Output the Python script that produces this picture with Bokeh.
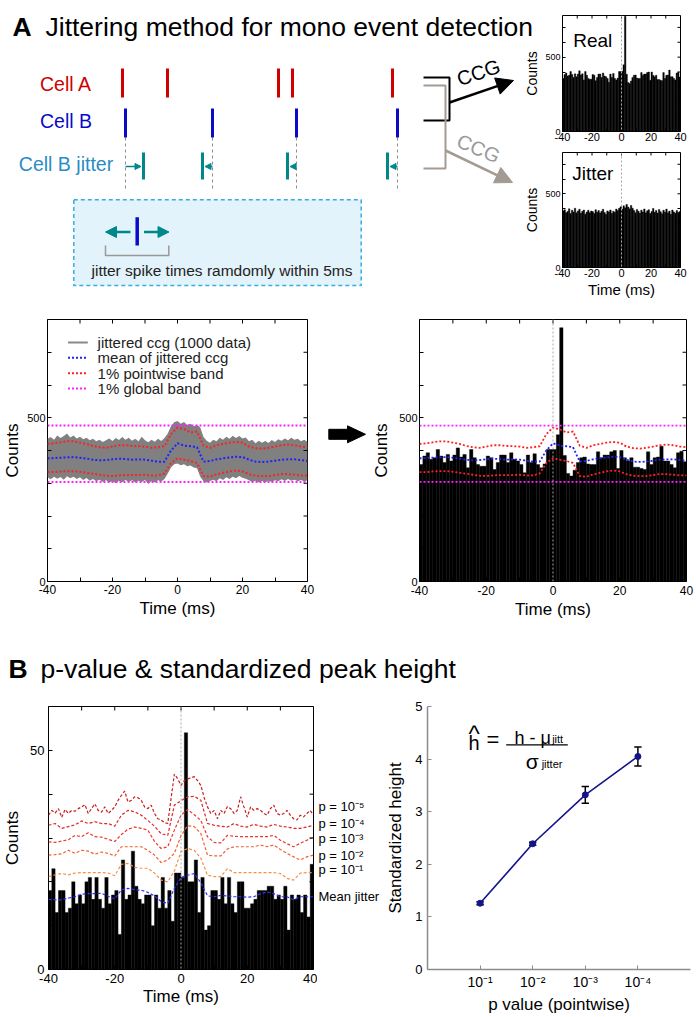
from math import pi
from bokeh.plotting import figure
from bokeh.models import Range1d, FixedTicker, Span, Arrow, NormalHead
from bokeh.layouts import row, column
from bokeh.core.properties import value
from bokeh.embed import file_html
from bokeh.resources import INLINE

FONT = "Liberation Sans"

# ---------------- data ----------------
ccg_bins = list(range(-40, 40))  # 1-ms bins, left edges
real_counts = [357, 383, 393, 373, 378, 403, 383, 363, 388, 368,
               386, 408, 380, 388, 347, 403, 378, 357, 352, 352,
               383, 378, 342, 363, 386, 386, 363, 393, 373, 368,
               357, 332, 386, 363, 390, 357, 347, 359, 403, 403,
               403, 448, 775, 385, 330, 322, 340, 363, 378, 380,
               359, 357, 357, 396, 378, 386, 386, 396, 400, 345,
               400, 378, 368, 378, 349, 349, 345, 342, 396, 357,
               378, 380, 413, 368, 368, 357, 347, 393, 398, 366]
jitter_counts = [385, 392, 372, 380, 398, 366, 389, 377, 402, 371,
                 384, 395, 368, 381, 390, 362, 376, 388, 371, 383,
                 379, 366, 392, 374, 386, 369, 381, 395, 373, 362,
                 384, 377, 390, 368, 382, 375, 396, 386, 402, 412,
                 395, 418, 405, 428, 410, 398, 421, 402, 387, 372,
                 394, 381, 368, 389, 376, 397, 371, 385, 392, 366,
                 380, 401, 374, 387, 369, 393, 378, 364, 388, 375,
                 396, 371, 383, 361, 390, 377, 368, 386, 373, 380]

band_t = list(range(-40, 41, 2))
pointwise_hi = [420, 422, 425, 428, 428, 424, 420, 414, 410, 408,
                412, 416, 416, 414, 413, 412, 408, 410, 413, 450,
                470, 465, 455, 458, 415, 408, 416, 420, 424, 426,
                424, 412, 407, 406, 408, 412, 416, 418, 416, 412, 410]
jitter_mean = [376, 377, 378, 379, 380, 378, 375, 372, 370, 371,
               373, 375, 374, 372, 373, 372, 369, 366, 366, 400,
               422, 415, 413, 410, 366, 368, 373, 376, 379, 381,
               380, 372, 366, 365, 366, 369, 372, 373, 373, 371, 368]
pointwise_lo = [334, 334, 336, 337, 337, 335, 332, 329, 326, 323,
                322, 324, 325, 325, 325, 326, 324, 324, 330, 362,
                376, 372, 368, 362, 322, 320, 327, 332, 336, 339,
                336, 328, 323, 322, 322, 325, 328, 328, 326, 324, 324]
env_t = list(range(-40, 41))
jittered_hi = [436, 441, 433, 446, 438, 444, 452, 440, 446, 437,
               442, 434, 439, 431, 436, 428, 433, 426, 431, 437,
               429, 438, 432, 441, 433, 439, 430, 436, 428, 442,
               431, 425, 433, 427, 436, 429, 438, 452, 474, 486,
               490, 482, 487, 478, 482, 474, 479, 470, 441, 430,
               424, 433, 428, 439, 433, 442, 436, 445, 438, 444,
               437, 440, 428, 433, 422, 430, 424, 429, 423, 432,
               426, 434, 430, 437, 431, 439, 433, 436, 428, 433, 426]
jittered_lo = [318, 312, 320, 314, 319, 311, 321, 315, 320, 313,
               318, 310, 316, 308, 313, 306, 311, 304, 309, 302,
               307, 300, 308, 303, 310, 304, 309, 302, 308, 304,
               310, 298, 307, 302, 309, 305, 313, 330, 348, 358,
               360, 355, 358, 352, 354, 348, 346, 320, 306, 302,
               307, 311, 306, 315, 310, 318, 313, 320, 315, 322,
               317, 314, 309, 304, 308, 302, 307, 303, 308, 304,
               309, 306, 312, 307, 313, 308, 311, 306, 310, 305, 309]
global_hi = 476
global_lo = 304
legend_labels = ["jittered ccg (1000 data)", "mean of jittered ccg",
                 "1% pointwise band", "1% global band"]

b_counts = [18, 23, 13, 18, 18, 13, 14, 20, 15, 17,
            15, 20, 21, 16, 21, 16, 14, 21, 15, 17,
            18, 8, 25, 16, 17, 27, 19, 16, 15, 17,
            17, 10, 17, 14, 21, 14, 18, 11, 22, 22,
            21, 54, 20, 20, 25, 13, 21, 9, 10, 18,
            18, 16, 21, 15, 21, 15, 13, 20, 20, 14,
            14, 15, 16, 18, 18, 18, 19, 19, 16, 17,
            16, 19, 9, 17, 16, 17, 13, 17, 12, 24]
p5_t = list(range(-40, 41))
p5_line = [35.2, 36.3, 35.7, 36.7, 34.7, 36.5, 35.6, 36.3, 36.1, 36.7,
           37.1, 37.6, 35.6, 36.7, 37.8, 36.3, 35.9, 37.1, 35.6, 36.3,
           37.1, 38.6, 39.7, 40.7, 38.2, 38.6, 39.4, 39.2, 38.6, 37.1,
           36.7, 37.5, 35.6, 34.4, 34.1, 33.5, 33.3, 39.0, 44.6, 43.5,
           42.0, 43.1, 43.5, 43.7, 44.0, 43.1, 42.0, 39.2, 37.1, 35.6,
           36.3, 34.4, 36.3, 35.6, 37.2, 36.7, 35.6, 36.3, 39.4, 37.1,
           34.8, 37.1, 36.3, 36.7, 36.3, 35.6, 35.2, 36.7, 37.5, 35.6,
           35.2, 35.6, 36.3, 35.2, 34.4, 34.1, 35.2, 34.8, 35.6, 36.3, 35.2]
pline_t = list(range(-40, 41, 2))
p4_line = [32.9, 33.3, 32.2, 32.6, 33.0, 33.9, 33.3, 33.7, 33.3, 33.3,
           32.7, 35.2, 36.3, 36.0, 35.2, 34.0, 32.7, 31.0, 30.6, 37.5,
           38.5, 39.4, 39.5, 38.6, 33.3, 32.9, 32.7, 32.5, 33.3, 32.7,
           32.5, 33.1, 32.7, 32.5, 33.1, 32.7, 32.5, 32.2, 32.2, 32.5, 32.9]
p3_line = [29.1, 29.0, 29.3, 29.6, 30.6, 30.3, 31.2, 30.3, 30.2, 29.7,
           29.2, 30.8, 32.0, 32.5, 32.2, 31.8, 29.2, 27.6, 28.0, 31.8,
           35.2, 36.5, 35.3, 34.0, 30.3, 29.0, 28.9, 30.6, 30.4, 30.3,
           30.3, 30.3, 30.3, 30.3, 30.6, 29.5, 28.7, 28.0, 28.8, 29.5, 30.2]
p2_line = [26.1, 26.2, 26.4, 27.2, 26.5, 27.2, 27.0, 26.3, 26.8, 26.5,
           25.9, 28.0, 28.0, 28.0, 28.0, 27.2, 26.1, 24.4, 25.0, 26.5,
           30.5, 32.8, 32.6, 31.0, 26.1, 25.9, 25.9, 27.5, 28.0, 28.0,
           28.0, 28.0, 28.4, 28.0, 28.4, 27.4, 26.5, 25.7, 25.0, 25.7, 26.1]
p1_line = [21.2, 21.6, 21.9, 21.6, 22.0, 22.1, 22.1, 22.1, 22.1, 22.0,
           21.4, 24.0, 24.2, 23.3, 23.1, 23.1, 22.0, 20.4, 20.0, 22.5,
           26.9, 27.6, 27.2, 25.4, 21.5, 21.2, 21.2, 23.0, 22.1, 22.1,
           22.1, 22.1, 22.1, 22.1, 22.1, 21.9, 20.8, 20.4, 22.0, 22.1, 22.1]
b_mean = [16.0, 15.9, 15.9, 16.3, 16.6, 17.2, 17.3, 17.3, 17.4, 16.7,
          16.1, 18.2, 18.5, 18.2, 18.1, 17.6, 16.8, 15.5, 15.1, 18.5,
          21.0, 21.5, 21.9, 19.8, 16.8, 16.6, 16.9, 16.8, 16.6, 16.6,
          16.5, 16.6, 17.3, 17.7, 17.3, 16.6, 16.6, 15.9, 16.6, 16.6, 16.6]
p_label_text = ["p = 10⁻⁵", "p = 10⁻⁴", "p = 10⁻³", "p = 10⁻²", "p = 10⁻¹", "Mean jitter"]
p_label_y = [37.1, 33.4, 29.9, 26.1, 22.7, 16.6]

p_pos = [1, 2, 3, 4]
p_tick_labels = ["10⁻¹", "10⁻²", "10⁻³", "10⁻⁴"]
std_height = [1.26, 2.39, 3.32, 4.05]
std_err = [0.03, 0.03, 0.16, 0.18]

# schematic spike trains (arbitrary time units of the diagram)
cellA_times = [122, 167, 278, 292, 392]
cellB_times = [125, 212, 296, 397]
cellB_jitter = [143, 202, 287, 387]
cell_labels = ["Cell A", "Cell B", "Cell B jitter"]

RED = "#d00000"
BLUE = "#0a0ac8"
TEAL = "#00878a"
LBLUE = "#2a8cc4"
GRAYB = "#a39a92"


# ---------------- helpers ----------------
def canvas(w, h, xr=None, yr=None, bt=0, bb=0):
    p = figure(width=w, height=h,
               x_range=Range1d(0, w) if xr is None else Range1d(*xr),
               y_range=Range1d(h, 0) if yr is None else Range1d(*yr),
               output_backend="svg", toolbar_location=None, min_border=0,
               min_border_top=bt, min_border_bottom=bb,
               x_axis_location=None, y_axis_location=None)
    p.grid.visible = False
    p.outline_line_color = None
    return p


def txt(p, x, y, s, size, color="black", align="left", baseline="alphabetic",
        bold=False, angle=0.0):
    p.text(x=[x], y=[y], text=[s], text_font=value(FONT),
           text_font_size=value(f"{size}px"), text_color=color,
           text_align=value(align), text_baseline=value(baseline),
           text_font_style=value("bold" if bold else "normal"), angle=angle)


def base_fig(w, h, xr, yr, bl, br, bt, bb):
    p = figure(width=w, height=h, x_range=Range1d(*xr), y_range=Range1d(*yr),
               output_backend="svg", toolbar_location=None,
               min_border_left=bl, min_border_right=br,
               min_border_top=bt, min_border_bottom=bb)
    p.grid.visible = False
    return p


def style_axis(ax, ticks, labels, size, standoff, tick_in=4, color="black", line=None):
    ax.ticker = FixedTicker(ticks=ticks)
    ax.major_label_overrides = dict(zip(ticks, labels))
    ax.major_tick_in = tick_in
    ax.major_tick_out = 0
    ax.minor_tick_in = 0
    ax.minor_tick_out = 0
    ax.major_tick_line_color = color
    ax.axis_line_color = line
    ax.major_label_text_font = FONT
    ax.major_label_text_font_size = f"{size}px"
    ax.major_label_text_color = "black"
    ax.major_label_standoff = standoff


def axis_title(ax, text, size, standoff):
    ax.axis_label = text
    ax.axis_label_text_font = FONT
    ax.axis_label_text_font_size = f"{size}px"
    ax.axis_label_text_font_style = "normal"
    ax.axis_label_text_color = "black"
    ax.axis_label_standoff = standoff


def mirror_ticks(p, xticks, yticks, xmax, ymax, length):
    # inward tick marks on the top and right edges of the box
    p.ray(x=xticks, y=[ymax] * len(xticks), length=length, length_units="screen",
          angle=-pi / 2, line_color="black", line_width=1)
    p.ray(x=[xmax] * len(yticks), y=yticks, length=length, length_units="screen",
          angle=pi, line_color="black", line_width=1)


def hist(p, counts):
    p.vbar(x=[b + 0.5 for b in ccg_bins], top=counts, width=1, bottom=0,
           fill_color="black", line_color="black", line_width=0.4)


def zero_line(p):
    p.add_layout(Span(location=0, dimension="height", line_color="#aaaaaa",
                      line_dash="2 2", line_width=1))


XT = list(range(-40, 41, 10))
XL = ["-40", "", "-20", "", "0", "", "20", "", "40"]

# ---------------- top-left schematic ----------------
S = canvas(540, 300)
txt(S, 12, 26, "A", 26.5, bold=True)
txt(S, 45, 26, "Jittering method for mono event detection", 26.5)
for lab, y, c in zip(cell_labels, [83, 120, 163], [RED, BLUE, LBLUE]):
    txt(S, 65.5, y, lab, 19.5, color=c, align="center", baseline="middle")
S.segment(x0=cellB_times, y0=137, x1=cellB_times, y1=188, line_color="#8c8c8c",
          line_dash="3 3", line_width=1)
S.segment(x0=cellA_times, y0=68, x1=cellA_times, y1=97, line_color=RED, line_width=3)
S.segment(x0=cellB_times, y0=108, x1=cellB_times, y1=137, line_color=BLUE, line_width=3)
S.segment(x0=cellB_jitter, y0=152, x1=cellB_jitter, y1=179, line_color=TEAL, line_width=3)
for b, j in zip(cellB_times, cellB_jitter):
    end = j - 2.5 if j > b else j + 2.5
    S.add_layout(Arrow(end=NormalHead(size=6, fill_color=TEAL, line_color=TEAL, line_width=1),
                       x_start=b, y_start=166, x_end=end, y_end=166,
                       line_color=TEAL, line_width=1.5))
# brackets and CCG arrows
S.line(x=[423, 449, 449, 423], y=[77, 77, 120, 120], line_color="black", line_width=2)
S.line(x=[423, 445, 445, 423], y=[85, 85, 168, 168], line_color=GRAYB, line_width=2)
S.add_layout(Arrow(end=NormalHead(size=17, fill_color="black", line_color="black", line_width=1),
                   x_start=449, y_start=102, x_end=513, y_end=80,
                   line_color="black", line_width=2.5))
S.add_layout(Arrow(end=NormalHead(size=17, fill_color=GRAYB, line_color=GRAYB, line_width=1),
                   x_start=445, y_start=150, x_end=512, y_end=182,
                   line_color=GRAYB, line_width=2.5))
txt(S, 478, 72, "CCG", 20, align="center", baseline="middle", angle=0.33)
txt(S, 478, 148, "CCG", 20, color="#9a9a9a", align="center", baseline="middle", angle=-0.40)
# explanation box
S.quad(left=73.3, right=360.7, top=199.3, bottom=285, fill_color="#e2f3fb",
       line_color="#36aee0", line_dash="4 3", line_width=1.5)
S.segment(x0=[136.7], y0=[216.7], x1=[136.7], y1=[245], line_color=BLUE, line_width=3.5)
S.add_layout(Arrow(end=NormalHead(size=11, fill_color=TEAL, line_color=TEAL, line_width=1),
                   x_start=130, y_start=231.5, x_end=105, y_end=231.5,
                   line_color=TEAL, line_width=2.5))
S.add_layout(Arrow(end=NormalHead(size=11, fill_color=TEAL, line_color=TEAL, line_width=1),
                   x_start=143.5, y_start=231.5, x_end=168.5, y_end=231.5,
                   line_color=TEAL, line_width=2.5))
S.line(x=[105, 105, 168.3, 168.3], y=[245, 255, 255, 245], line_color="#999999", line_width=1.5)
txt(S, 91, 270, "jitter spike times ramdomly within 5ms", 15.5, color="#222222", baseline="middle")


# ---------------- top-right small CCGs ----------------
def small_ccg(counts, h, bt, bb, xlabel):
    p = base_fig(176, h, (-40, 40), (0, 780), 42, 16, bt, bb)
    p.border_fill_color = None
    p.outline_line_color = "black"
    hist(p, counts)
    zero_line(p)
    style_axis(p.xaxis[0], XT, XL, 11, 1, tick_in=3)
    yt = list(range(0, 701, 100))
    style_axis(p.yaxis[0], yt, ["0", "", "", "", "", "500", "", ""], 9, 2, tick_in=3)
    axis_title(p.yaxis[0], "Counts", 14, 2)
    if xlabel:
        axis_title(p.xaxis[0], "Time (ms)", 15, 1)
    mirror_ticks(p, XT, yt, 40, 780, 3)
    return p


real_fig = small_ccg(real_counts, 148, 15, 17, False)
txt(real_fig, -32.7, 612, "Real", 19, baseline="middle")
jit_fig = small_ccg(jitter_counts, 152, 4, 33, True)
txt(jit_fig, -33.4, 638, "Jitter", 19, baseline="middle")

top = row(S, column(real_fig, jit_fig, margin=(0, 0, 0, -20)))

# ---------------- row 2 ----------------
YT8 = list(range(0, 801, 100))
YL8 = ["0", "", "", "", "", "500", "", "", ""]


def band_lines(p, lw):
    p.line(band_t, pointwise_hi, line_color="#ff2020", line_dash="2 2", line_width=lw)
    p.line(band_t, pointwise_lo, line_color="#ff2020", line_dash="2 2", line_width=lw)
    p.line(band_t, jitter_mean, line_color="#2020ff", line_dash="2 2", line_width=lw)
    p.add_layout(Span(location=global_hi, dimension="width", line_color="#ff20ff",
                      line_dash="2 2", line_width=lw))
    p.add_layout(Span(location=global_lo, dimension="width", line_color="#ff20ff",
                      line_dash="2 2", line_width=lw))


L2 = base_fig(325, 340, (-40, 40), (0, 800), 42, 18, 17, 59)
L2.outline_line_color = "black"
L2.varea(x=env_t, y1=jittered_lo, y2=jittered_hi, fill_color="#808080")
band_lines(L2, 2)
style_axis(L2.xaxis[0], XT, XL, 12, 3)
style_axis(L2.yaxis[0], YT8, YL8, 11, 2)
axis_title(L2.xaxis[0], "Time (ms)", 17, 2)
axis_title(L2.yaxis[0], "Counts", 17, 2)
mirror_ticks(L2, XT, YT8, 40, 800, 4)
leg_y = [730, 683, 636, 589]
leg_col = ["#8a8a8a", "#2020ff", "#ff2020", "#ff20ff"]
leg_dash = ["solid", "2 2", "2 2", "2 2"]
for lab, y, c, d in zip(legend_labels, leg_y, leg_col, leg_dash):
    L2.line(x=[-33.7, -27.6], y=[y, y], line_color=c, line_width=2, line_dash=d)
    txt(L2, -24.6, y, lab, 15, color="#222222", baseline="middle")

AR = canvas(43, 340)
AR.patch(x=[3.3, 22, 22, 40, 22, 22, 3.3], y=[142.5, 142.5, 138, 149, 160, 155.5, 155.5],
         fill_color="black", line_color="black")

R2 = base_fig(328, 340, (-40, 40), (0, 800), 51, 10, 19, 57)
R2.outline_line_color = "black"
hist(R2, real_counts)
band_lines(R2, 1.8)
zero_line(R2)
style_axis(R2.xaxis[0], XT, XL, 12, 4)
style_axis(R2.yaxis[0], YT8, YL8, 11, 2)
axis_title(R2.xaxis[0], "Time (ms)", 17, 2)
axis_title(R2.yaxis[0], "Counts", 17, 5)
mirror_ticks(R2, XT, YT8, 40, 800, 4)

row2 = row(L2, AR, R2)

# ---------------- title B ----------------
TB = canvas(696, 46)
txt(TB, 8, 28, "B", 26.5, bold=True)
txt(TB, 40, 28, "p-value & standardized peak height", 26.5)

# ---------------- row 3 left ----------------
B3L = base_fig(317, 331, (-40, 40), (0, 60), 44, 4, 20, 47)
B3L.outline_line_color = "black"
hist(B3L, b_counts)
P_COL = ["#c81e1e", "#dc2626", "#e93a2a", "#f0622f", "#f5914a"]
B3L.line(p5_t, p5_line, line_color=P_COL[0], line_dash="3 2", line_width=1.2)
for ys, c in zip([p4_line, p3_line, p2_line, p1_line], P_COL[1:]):
    B3L.line(pline_t, ys, line_color=c, line_dash="3 2", line_width=1.2)
B3L.line(pline_t, b_mean, line_color="#3030ff", line_dash="3 2", line_width=1.2)
zero_line(B3L)
YT6 = list(range(0, 61, 10))
style_axis(B3L.xaxis[0], XT, XL, 13, 4)
style_axis(B3L.yaxis[0], YT6, ["0", "", "", "", "", "50", ""], 13, 4)
axis_title(B3L.xaxis[0], "Time (ms)", 17, 1)
axis_title(B3L.yaxis[0], "Counts", 17, 5)
mirror_ticks(B3L, XT, YT6, 40, 60, 4)

# band labels, in a strip sharing the count scale of the left panel
PL = canvas(63, 331, xr=(0, 63), yr=(0, 60), bt=20, bb=47)
for s, y in zip(p_label_text, p_label_y):
    txt(PL, 1, y, s, 13, baseline="middle")

# ---------------- row 3 right ----------------
B3R = base_fig(316, 331, (0, 5), (0, 5), 47, 6, 17, 48)
B3R.outline_line_color = None
AXC = "#8c8c8c"
style_axis(B3R.xaxis[0], p_pos, p_tick_labels, 14, 4, tick_in=4, color=AXC, line=AXC)
style_axis(B3R.yaxis[0], [0, 1, 2, 3, 4, 5], ["0", "1", "2", "3", "4", "5"], 13, 5,
           tick_in=4, color=AXC, line=AXC)
B3R.xaxis[0].axis_line_width = 1.5
B3R.yaxis[0].axis_line_width = 1.5
axis_title(B3R.xaxis[0], "p value (pointwise)", 17, 2)
axis_title(B3R.yaxis[0], "Standardized height", 17, 7)
lo = [h - e for h, e in zip(std_height, std_err)]
hi = [h + e for h, e in zip(std_height, std_err)]
B3R.line(p_pos, std_height, line_color="#14148c", line_width=1.6)
B3R.segment(x0=p_pos, y0=lo, x1=p_pos, y1=hi, line_color="black", line_width=1.5)
B3R.segment(x0=[x - 0.07 for x in p_pos], y0=lo, x1=[x + 0.07 for x in p_pos], y1=lo,
            line_color="black", line_width=1.5)
B3R.segment(x0=[x - 0.07 for x in p_pos], y0=hi, x1=[x + 0.07 for x in p_pos], y1=hi,
            line_color="black", line_width=1.5)
B3R.scatter(p_pos, std_height, size=6, fill_color="#14148c", line_color="#14148c")
# formula
txt(B3R, 0.78, 4.31, "h", 20)
txt(B3R, 0.885, 4.49, "^", 24, align="center")
txt(B3R, 1.245, 4.37, "=", 22, align="center", baseline="middle")
B3R.line(x=[1.496, 2.667], y=[4.27, 4.27], line_color="black", line_width=1.3)
txt(B3R, 1.654, 4.40, "h - μ", 18)
txt(B3R, 2.37, 4.39, "jitt", 11)
txt(B3R, 1.87, 3.95, "σ", 21)
txt(B3R, 2.17, 3.90, "jitter", 11)

row3 = row(B3L, PL, B3R)

layout = column(top, row2, TB, row3)
open("out.html", "w").write(file_html(layout, INLINE))
